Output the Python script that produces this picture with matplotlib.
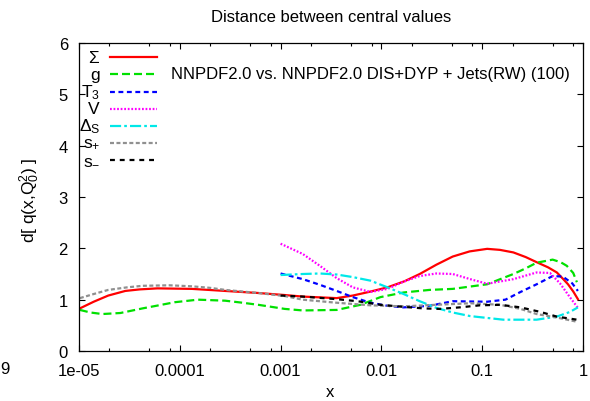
import matplotlib
matplotlib.use("Agg")
import matplotlib.pyplot as plt
from matplotlib.ticker import FixedLocator, FixedFormatter, LogLocator, NullFormatter

plt.rcParams["font.family"] = ["Liberation Sans", "DejaVu Sans"]
plt.rcParams["mathtext.fontset"] = "custom"
plt.rcParams["mathtext.rm"] = "Liberation Sans"
plt.rcParams["mathtext.it"] = "Liberation Sans:italic"
plt.rcParams["mathtext.bf"] = "Liberation Sans:bold"

# ---- data: distance between central values, d[q(x,Q0^2)] ----
x_sigma = [1.02e-5, 1.4e-5, 1.95e-5, 2.88e-5, 4.0e-5, 6.0e-5, 1.32e-4, 2.82e-4,
           6.0e-4, 1.10e-3, 1.66e-3, 3.6e-3, 5.2e-3, 7.5e-3, 1.15e-2, 1.7e-2,
           2.4e-2, 3.5e-2, 5.1e-2, 7.5e-2, 0.112, 0.15, 0.204, 0.27, 0.347,
           0.45, 0.55, 0.63, 0.71, 0.80, 0.89]
y_sigma = [0.83, 0.96, 1.08, 1.17, 1.20, 1.22, 1.21, 1.17,
           1.13, 1.09, 1.06, 1.03, 1.08, 1.15, 1.24, 1.36,
           1.50, 1.68, 1.84, 1.94, 1.99, 1.97, 1.92, 1.83, 1.73,
           1.63, 1.53, 1.41, 1.30, 1.16, 1.01]

x_g = [1.02e-5, 1.3e-5, 1.70e-5, 2.57e-5, 4.27e-5, 6.0e-5, 8.9e-5, 1.51e-4,
       2.82e-4, 4.0e-4, 6.0e-4, 1.10e-3, 1.66e-3, 3.6e-3, 6.2e-3, 9.8e-3,
       1.66e-2, 3.0e-2, 5.1e-2, 0.112, 0.204, 0.27, 0.347, 0.50, 0.60,
       0.69, 0.80, 0.87]
y_g = [0.80, 0.75, 0.72, 0.74, 0.83, 0.885, 0.95, 1.00,
       0.98, 0.945, 0.90, 0.82, 0.79, 0.80, 0.90, 1.05,
       1.14, 1.19, 1.21, 1.30, 1.50, 1.61, 1.72, 1.78, 1.73,
       1.66, 1.52, 1.34]

x_t3 = [1.0e-3, 1.66e-3, 2.45e-3, 3.6e-3, 5.2e-3, 7.8e-3, 1.15e-2, 1.66e-2,
        3.0e-2, 5.1e-2, 0.112, 0.17, 0.24, 0.347, 0.50, 0.63, 0.78, 0.89]
y_t3 = [1.51, 1.40, 1.29, 1.17, 1.05, 0.94, 0.88, 0.85,
        0.88, 0.97, 0.96, 1.00, 1.15, 1.30, 1.46, 1.45, 1.32, 1.17]

x_v = [1.0e-3, 1.66e-3, 2.45e-3, 3.6e-3, 5.2e-3, 7.8e-3, 1.15e-2, 1.66e-2,
       2.4e-2, 3.5e-2, 5.1e-2, 7.6e-2, 0.112, 0.204, 0.347, 0.47, 0.59,
       0.74, 0.89]
y_v = [2.09, 1.89, 1.66, 1.42, 1.24, 1.15, 1.21, 1.35,
       1.46, 1.51, 1.50, 1.40, 1.31, 1.40, 1.53, 1.52, 1.32,
       1.05, 0.84]

x_ds = [1.0e-3, 1.66e-3, 2.45e-3, 3.6e-3, 5.2e-3, 7.8e-3, 1.15e-2, 1.66e-2,
        2.4e-2, 3.5e-2, 5.1e-2, 7.6e-2, 0.162, 0.347, 0.55, 0.74, 0.89]
y_ds = [1.48, 1.50, 1.51, 1.49, 1.44, 1.37, 1.24, 1.11,
        0.97, 0.84, 0.75, 0.68, 0.61, 0.61, 0.67, 0.76, 0.85]

x_sp = [1.02e-5, 1.4e-5, 1.95e-5, 3.0e-5, 4.27e-5, 7.9e-5, 1.32e-4, 2.0e-4,
        2.82e-4, 6.0e-4, 1.10e-3, 1.66e-3, 3.6e-3, 7.8e-3, 1.66e-2, 3.5e-2,
        7.6e-2, 0.151, 0.24, 0.347, 0.59, 0.87]
y_sp = [1.03, 1.11, 1.19, 1.24, 1.27, 1.28, 1.26, 1.23,
        1.19, 1.13, 1.07, 1.00, 0.94, 0.89, 0.87, 0.90,
        0.93, 0.90, 0.82, 0.72, 0.64, 0.57]

x_sm = [1.0e-3, 1.66e-3, 3.6e-3, 5.8e-3, 9.8e-3, 1.66e-2, 2.6e-2, 3.8e-2,
        6.0e-2, 9.5e-2, 0.151, 0.24, 0.38, 0.55, 0.87]
y_sm = [1.08, 1.06, 1.01, 0.97, 0.90, 0.86, 0.83, 0.82,
        0.85, 0.89, 0.90, 0.85, 0.76, 0.67, 0.61]

labels = [r"$\Sigma$", "g", r"T$_\mathrm{3}$", "V", r"$\Delta_\mathrm{S}$",
          r"s$_\mathrm{+}$", r"s$_\mathrm{-}$"]

x_ticks = [1e-5, 1e-4, 1e-3, 1e-2, 1e-1, 1]
x_tick_labels = ["1e-05", "0.0001", "0.001", "0.01", "0.1", "1"]
y_ticks = [0, 1, 2, 3, 4, 5, 6]

# ---- figure ----
W, H = 590, 402
fig = plt.figure(figsize=(W / 100, H / 100), dpi=100)
L, R, T, B = 79, 583, 44, 352
ax = fig.add_axes([L / W, 1 - B / H, (R - L) / W, (B - T) / H])

series = [
    (x_sigma, y_sigma, dict(color="#ff0000", linestyle="-")),
    (x_g, y_g, dict(color="#00e000", dashes=(3.6, 1.8))),
    (x_t3, y_t3, dict(color="#0000ff", dashes=(2.2, 1.6))),
    (x_v, y_v, dict(color="#ff00ff", dashes=(0.8, 0.8))),
    (x_ds, y_ds, dict(color="#00e8e8", dashes=(5.0, 1.4, 1.2, 1.4))),
    (x_sp, y_sp, dict(color="#909090", dashes=(1.8, 1.1))),
    (x_sm, y_sm, dict(color="#000000", dashes=(2.2, 2.2))),
]

lw = 1.6
for xs, ys, st in series:
    ax.plot(xs, ys, lw=lw, solid_joinstyle="round", dash_joinstyle="round", **st)

ax.set_xscale("log")
ax.set_xlim(1e-5, 1)
ax.set_ylim(0, 6)
ax.xaxis.set_major_locator(FixedLocator(x_ticks))
ax.xaxis.set_major_formatter(FixedFormatter(x_tick_labels))
ax.xaxis.set_minor_locator(LogLocator(base=10, subs=(2, 5, 8)))
ax.xaxis.set_minor_formatter(NullFormatter())
ax.set_yticks(y_ticks)
ax.set_yticklabels([str(v) for v in y_ticks])

ax.tick_params(which="both", direction="in", top=True, right=True,
               labelsize=12, width=0.8, colors="black")
ax.tick_params(which="major", length=4.5)
ax.tick_params(which="minor", length=2.5)
ax.tick_params(axis="x", which="major", pad=9)
ax.tick_params(axis="y", which="major", pad=8)
for sp in ax.spines.values():
    sp.set_linewidth(0.9)

# key: right-aligned labels with line samples
key_x0 = (110 - L) / (R - L)
key_x1 = (157 - L) / (R - L)
key_lab = (100 - L) / (R - L)
row0 = (B - 58.3) / (B - T)
step = 17.1 / (B - T)
for i, ((xs, ys, st), lab) in enumerate(zip(series, labels)):
    yy = row0 - i * step
    ax.plot([key_x0, key_x1], [yy, yy], lw=lw, transform=ax.transAxes,
            clip_on=False, **st)
    ax.text(key_lab, yy, lab, transform=ax.transAxes, ha="right",
            va="center", fontsize=12.5)

ax.text((171 - L) / (R - L), (B - 74) / (B - T),
        "NNPDF2.0 vs. NNPDF2.0 DIS+DYP + Jets(RW) (100)",
        transform=ax.transAxes, ha="left", va="center", fontsize=12)

fig.text(331 / W, 1 - 18 / H, "Distance between central values",
         ha="center", va="center", fontsize=12)
fig.text(330 / W, 1 - 393 / H, "x", ha="center", va="center", fontsize=12)
fig.text(30 / W, 1 - 200 / H, r"d[ q(x,Q$_\mathrm{0}^\mathrm{2}$) ]",
         rotation=90, ha="center", va="center", fontsize=12.5)
fig.text(5 / W, 1 - 370 / H, "9", ha="center", va="center", fontsize=12)

fig.savefig("out.png", dpi=100)
